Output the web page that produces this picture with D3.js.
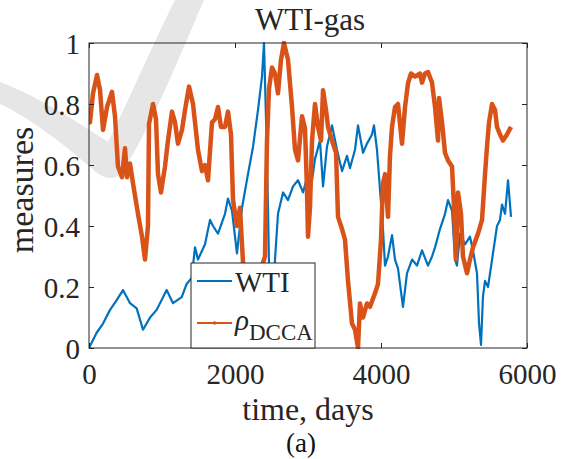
<!DOCTYPE html>
<html>
<head>
<meta charset="utf-8">
<script src="https://cdn.jsdelivr.net/npm/d3@7"></script>
<style>
  html, body { margin: 0; padding: 0; background: #fff; }
  svg { display: block; }
</style>
</head>
<body>
<div id="chart"></div>
<script>
// ---- data (days, normalised measure) ----
const wtiDays = [0,105,192,288,379,466,562,653,740,836,927,1064,1151,1270,1338,1407,1452,1493,1589,1658,
  1699,1767,1863,1904,1959,2027,2096,2178,2247,2315,2370,2397,2425,2452,2479,2507,2548,2589,2658,2726,
  2795,2863,2932,3000,3055,3096,3164,3206,3260,3329,3397,3466,3534,3575,3644,3685,3754,3808,3877,3904,
  3945,3986,4027,4055,4096,4151,4192,4233,4301,4356,4425,4493,4562,4644,4699,4740,4808,4877,4918,4973,
  5014,5041,5082,5151,5219,5260,5315,5343,5370,5397,5425,5466,5534,5589,5630,5658,5699,5740,5781];
const wtiValues = [0,0.05,0.08,0.125,0.157,0.19,0.147,0.13,0.06,0.10,0.125,0.19,0.147,0.167,0.21,0.23,0.33,0.29,0.34,0.42,
  0.40,0.375,0.44,0.49,0.45,0.31,0.46,0.57,0.66,0.78,0.89,1.0,0.75,0.46,0.10,0.05,0.29,0.44,0.51,0.485,
  0.53,0.55,0.51,0.57,0.55,0.62,0.68,0.53,0.66,0.73,0.65,0.58,0.63,0.59,0.65,0.73,0.64,0.67,0.70,0.73,
  0.65,0.52,0.39,0.27,0.30,0.37,0.29,0.26,0.135,0.245,0.29,0.27,0.32,0.27,0.30,0.33,0.39,0.44,0.485,0.45,
  0.29,0.27,0.375,0.34,0.365,0.32,0.245,0.08,0.01,0.17,0.22,0.20,0.31,0.40,0.42,0.47,0.44,0.55,0.43];

const rhoDays = [0,14,55,110,151,192,247,315,356,397,452,493,521,562,603,671,726,767,808,822,
  877,918,945,986,1041,1082,1137,1178,1219,1274,1315,1370,1425,1493,1548,1589,1630,1685,1726,1767,
  1808,1863,1904,1945,1973,2027,2068,2110,2151,2343,2411,2438,2466,2507,2548,2589,2630,2671,2726,2781,
  2822,2863,2918,2959,2986,3000,3027,3055,3096,3137,3178,3206,3247,3274,3329,3384,3411,3466,3507,3548,
  3603,3644,3685,3712,3754,3808,3849,3918,3959,4000,4027,4055,4096,4123,4151,4192,4233,4288,4329,4370,
  4411,4466,4534,4562,4603,4644,4699,4740,4781,4795,4836,4877,4918,4973,5000,5027,5055,5096,5123,5178,
  5219,5260,5329,5384,5425,5452,5480,5521,5562,5589,5630,5671,5726,5781];
const rhoValues = [0.79,0.74,0.835,0.895,0.846,0.715,0.79,0.84,0.76,0.595,0.56,0.655,0.56,0.605,0.54,0.44,0.365,0.29,0.40,0.735,
  0.80,0.75,0.57,0.51,0.595,0.68,0.775,0.74,0.67,0.715,0.78,0.857,0.80,0.65,0.58,0.60,0.55,0.74,0.75,0.79,
  0.725,0.725,0.775,0.70,0.485,0.40,0.46,0.28,0.22,0.25,0.30,0.68,0.85,0.92,0.90,0.835,0.945,1.0,0.945,0.79,
  0.65,0.615,0.76,0.72,0.52,0.365,0.46,0.68,0.80,0.725,0.68,0.845,0.78,0.725,0.68,0.64,0.43,0.39,0.355,0.22,
  0.08,0.06,0.0,0.146,0.10,0.146,0.135,0.18,0.21,0.355,0.54,0.57,0.43,0.63,0.725,0.79,0.80,0.67,0.79,0.868,
  0.90,0.89,0.90,0.87,0.90,0.905,0.87,0.79,0.68,0.82,0.74,0.64,0.615,0.595,0.46,0.29,0.51,0.44,0.30,0.245,
  0.29,0.33,0.375,0.42,0.57,0.66,0.74,0.80,0.78,0.725,0.70,0.68,0.70,0.725];

const xTicks = [0, 2000, 4000, 6000];
const yTicks = [0, 0.2, 0.4, 0.6, 0.8, 1];

// ---- layout ----
const W = 566, H = 459;
const box = { left: 89, right: 527, top: 43, bottom: 348 };
const serif = "'Liberation Serif', 'Times New Roman', serif";
const ink = '#262626';
const BLUE = '#0072BD', ORANGE = '#D95319';

const svg = d3.select('#chart').append('svg')
  .attr('width', W).attr('height', H)
  .attr('viewBox', `0 0 ${W} ${H}`);

// faint watermark swoosh sitting behind the figure
svg.append('path')
  .attr('d', 'M0,82 C35,95 75,120 108,142 C120,120 150,50 175,0 L204,0 C178,60 150,130 122,172 C116,180 106,180 96,172 C65,145 30,118 0,104 Z')
  .attr('fill', '#e6e6e6');

const x = d3.scaleLinear().domain([0, 6000]).range([box.left, box.right]);
const y = d3.scaleLinear().domain([0, 1]).range([box.bottom, box.top]);

svg.append('clipPath').attr('id', 'plot-clip')
  .append('rect')
  .attr('x', box.left).attr('y', box.top - 2)
  .attr('width', box.right - box.left).attr('height', box.bottom - box.top + 3);

// ---- series ----
const wti = wtiDays.map((d, i) => ({ t: d, v: wtiValues[i] }));
const rho = rhoDays.map((d, i) => ({ t: d, v: rhoValues[i] }));

const line = d3.line().x(d => x(d.t)).y(d => y(d.v));

const plot = svg.append('g').attr('clip-path', 'url(#plot-clip)');
plot.append('path').datum(wti)
  .attr('fill', 'none').attr('stroke', BLUE)
  .attr('stroke-width', 2.2).attr('stroke-linejoin', 'round')
  .attr('d', line);
plot.append('path').datum(rho)
  .attr('fill', 'none').attr('stroke', ORANGE)
  .attr('stroke-width', 4.5).attr('stroke-linejoin', 'round')
  .attr('d', line);

// ---- axes (MATLAB-style: inward ticks on all four sides) ----
const fmtY = d => String(+d.toFixed(1));

const gx = svg.append('g').attr('transform', `translate(0,${box.bottom})`)
  .call(d3.axisBottom(x).tickValues(xTicks).tickFormat(d3.format('d'))
    .tickSizeInner(-5).tickSizeOuter(0).tickPadding(15));
const gy = svg.append('g').attr('transform', `translate(${box.left},0)`)
  .call(d3.axisLeft(y).tickValues(yTicks).tickFormat(fmtY)
    .tickSizeInner(-5).tickSizeOuter(0).tickPadding(9));
const gxt = svg.append('g').attr('transform', `translate(0,${box.top})`)
  .call(d3.axisTop(x).tickValues(xTicks).tickFormat('')
    .tickSizeInner(-5).tickSizeOuter(0));
const gyr = svg.append('g').attr('transform', `translate(${box.right},0)`)
  .call(d3.axisRight(y).tickValues(yTicks).tickFormat('')
    .tickSizeInner(-5).tickSizeOuter(0));

[gx, gy, gxt, gyr].forEach(g => {
  g.attr('font-family', serif);
  g.select('.domain').remove();
  g.selectAll('.tick line').attr('stroke', ink).attr('stroke-width', 1);
  g.selectAll('.tick text')
    .attr('font-family', serif).attr('font-size', 29).attr('fill', ink);
});
gy.selectAll('.tick text').attr('dy', '0.36em');

svg.append('rect')
  .attr('x', box.left).attr('y', box.top)
  .attr('width', box.right - box.left).attr('height', box.bottom - box.top)
  .attr('fill', 'none').attr('stroke', ink).attr('stroke-width', 1);

// ---- legend ----
const lg = svg.append('g');
lg.append('rect')
  .attr('x', 191).attr('y', 263).attr('width', 124).attr('height', 85)
  .attr('fill', '#fff').attr('stroke', ink).attr('stroke-width', 1);

lg.append('line').attr('x1', 197).attr('x2', 232).attr('y1', 281).attr('y2', 281)
  .attr('stroke', BLUE).attr('stroke-width', 2.2);
lg.append('text').attr('x', 235).attr('y', 292)
  .attr('font-family', serif).attr('font-size', 29).attr('fill', ink)
  .text('WTI');

lg.append('line').attr('x1', 197).attr('x2', 232).attr('y1', 323).attr('y2', 323)
  .attr('stroke', ORANGE).attr('stroke-width', 2);
lg.append('circle').attr('cx', 214.5).attr('cy', 323).attr('r', 1.8).attr('fill', ORANGE);
const rt = lg.append('text').attr('x', 235).attr('y', 330)
  .attr('font-family', serif).attr('font-size', 29).attr('fill', ink);
rt.append('tspan').attr('font-style', 'italic').text('ρ');
rt.append('tspan').attr('x', 249).attr('y', 340).attr('font-size', 23).text('DCCA');

// ---- titles ----
svg.append('text')
  .attr('x', 310).attr('y', 30).attr('text-anchor', 'middle')
  .attr('font-family', serif).attr('font-size', 31).attr('fill', ink)
  .text('WTI-gas');

svg.append('text')
  .attr('x', 308).attr('y', 420).attr('text-anchor', 'middle')
  .attr('font-family', serif).attr('font-size', 32).attr('fill', ink)
  .text('time, days');

svg.append('text')
  .attr('transform', `translate(33,190) rotate(-90)`).attr('text-anchor', 'middle')
  .attr('font-family', serif).attr('font-size', 34).attr('fill', ink)
  .text('measures');

svg.append('text')
  .attr('x', 301).attr('y', 452).attr('text-anchor', 'middle')
  .attr('font-family', serif).attr('font-size', 27).attr('fill', '#111')
  .text('(a)');
</script>
</body>
</html>
